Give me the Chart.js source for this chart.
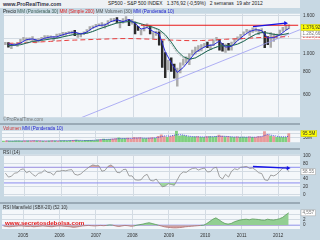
<!DOCTYPE html>
<html lang="es">
<head>
<meta charset="utf-8">
<title>SP500 - S&amp;P 500 INDEX</title>
<script src="https://cdn.jsdelivr.net/npm/chart.js@4.4.1/dist/chart.umd.min.js"></script>
<style>
  html, body { margin: 0; padding: 0; }
  body { width: 320px; height: 240px; position: relative; overflow: hidden; background: #c7d8e3; font-family: "Liberation Sans", Arial, sans-serif; }
  .caja { position: absolute; left: 0; width: 320px; }
  .sep { position: absolute; left: 0; width: 300px; background: #9aaab6; }
  .txt { position: absolute; font-size: 4.6px; white-space: nowrap; line-height: 1; }
  #cabecera { position: absolute; left: 0; top: 0; width: 300px; height: 8px; background: #eef1f4; }
</style>
</head>
<body>
<div id="cabecera"></div>
<div class="txt" style="left:3px;top:1.5px;font-size:5.3px;font-weight:bold;color:#334">www.ProRealTime.com</div>
<div class="txt" style="left:108px;top:1.6px;font-size:4.9px;color:#222">SP500 - S&amp;P 500 INDEX&nbsp;&nbsp;&nbsp;1.376,92 (-0,59%)&nbsp;&nbsp;&nbsp;2 semanas&nbsp;&nbsp;19 abr 2012</div>

<div class="caja" style="top:8px;height:115px"><canvas id="precio"></canvas></div>
<div class="sep" style="top:123px;height:2px"></div>
<div class="caja" style="top:125px;height:23px"><canvas id="volumen"></canvas></div>
<div class="sep" style="top:148px;height:1.5px"></div>
<div class="caja" style="top:149px;height:53px"><canvas id="rsi"></canvas></div>
<div class="sep" style="top:202px;height:2px"></div>
<div class="caja" style="top:204px;height:36px"><canvas id="mansfield"></canvas></div>

<div class="txt" style="left:3px;top:9.5px"><span style="color:#222">Precio</span> <span style="color:#3d5f55">MM (Ponderada 30)</span> <span style="color:#e02020">MM (Simple 200)</span> <span style="color:#555">MM Volumen (30)</span> <span style="color:#2020d0">MM (Ponderada 10)</span></div>
<div class="txt" style="left:3px;top:118px;color:#777">©ProRealTime.com</div>
<div class="txt" style="left:3px;top:126.5px"><span style="color:#d04040">Volumen</span> <span style="color:#2020d0">MM (Ponderada 10)</span></div>
<div class="txt" style="left:3px;top:150.5px;color:#333">RSI (14)</div>
<div class="txt" style="left:3px;top:205.5px;color:#333">RSI Mansfield (SBX-20) (52 10)</div>
<div class="txt" style="left:5px;top:219.5px;font-size:6.2px;font-weight:bold;color:#e01818;text-shadow:0 0 1px #fff">www.secretosdebolsa.com</div>

<script>
// periodo mostrado y marcas de año
const X_MIN = 2004.42;
const X_MAX = 2012.60;
const anios = [2005, 2006, 2007, 2008, 2009, 2010, 2011, 2012];

// precio mensual (jun 2004 - abr 2012)
const maximos = [
    1146, 1141, 1108, 1131, 1142, 1188, 1217,
    1212, 1212, 1229, 1192, 1199, 1219, 1245, 1246, 1243, 1233, 1270, 1275,
    1295, 1296, 1310, 1318, 1327, 1284, 1283, 1306, 1340, 1390, 1407, 1432,
    1441, 1461, 1439, 1498, 1535, 1540, 1556, 1503, 1539, 1576, 1524, 1523,
    1471, 1396, 1341, 1397, 1441, 1405, 1292, 1314, 1305, 1168, 1008, 919,
    946, 875, 833, 889, 931, 957, 996, 1040, 1081, 1102, 1114, 1130,
    1151, 1113, 1181, 1220, 1187, 1132, 1120, 1130, 1150, 1196, 1228, 1263,
    1303, 1345, 1333, 1370, 1371, 1345, 1357, 1308, 1230, 1293, 1278, 1270,
    1334, 1378, 1420, 1422
];
const minimos = [
    1113, 1078, 1060, 1099, 1090, 1127, 1173,
    1163, 1176, 1163, 1137, 1147, 1187, 1191, 1201, 1201, 1168, 1201, 1245,
    1245, 1253, 1277, 1280, 1245, 1219, 1225, 1261, 1290, 1331, 1360, 1385,
    1404, 1396, 1364, 1416, 1480, 1484, 1455, 1370, 1452, 1490, 1406, 1435,
    1270, 1326, 1257, 1320, 1373, 1272, 1200, 1249, 1106, 840, 741, 815,
    800, 735, 667, 784, 865, 888, 869, 978, 991, 1020, 1030, 1086,
    1071, 1045, 1101, 1165, 1040, 1028, 1011, 1040, 1039, 1131, 1173, 1189,
    1256, 1296, 1249, 1295, 1311, 1258, 1283, 1074, 1114, 1075, 1158, 1202,
    1259, 1312, 1340, 1357
];
const cierres = [
    1141, 1102, 1104, 1115, 1130, 1174, 1212,
    1181, 1204, 1181, 1157, 1192, 1191, 1234, 1220, 1229, 1207, 1249, 1248,
    1280, 1281, 1295, 1311, 1270, 1270, 1277, 1304, 1336, 1378, 1401, 1418,
    1438, 1407, 1421, 1482, 1531, 1503, 1455, 1474, 1527, 1549, 1481, 1468,
    1379, 1331, 1323, 1386, 1400, 1280, 1267, 1283, 1166, 969, 896, 903,
    826, 735, 798, 873, 919, 919, 987, 1021, 1057, 1036, 1096, 1115,
    1074, 1104, 1169, 1187, 1089, 1031, 1102, 1049, 1141, 1183, 1181, 1258,
    1286, 1327, 1326, 1364, 1345, 1321, 1292, 1219, 1131, 1253, 1247, 1258,
    1312, 1366, 1408, 1377
];
const volumenes = [
    14, 15, 12, 13, 16, 15, 14,
    16, 15, 17, 18, 16, 15, 14, 13, 15, 18, 16, 14,
    19, 18, 17, 18, 22, 24, 19, 17, 20, 21, 22, 18,
    26, 30, 34, 30, 32, 36, 40, 50, 38, 40, 46, 36,
    54, 48, 52, 42, 40, 46, 52, 44, 66, 84, 64, 54,
    64, 72, 128, 70, 74, 68, 60, 58, 60, 62, 56, 54,
    62, 64, 58, 64, 80, 68, 60, 62, 58, 56, 60, 54,
    58, 56, 60, 54, 56, 62, 60, 120, 82, 70, 62, 56,
    58, 56, 54, 95.5
];
const rsi14 = [
    55, 45, 47, 55, 56, 64, 66,
    56, 60, 52, 47, 55, 56, 63, 57, 56, 50, 60, 60,
    62, 61, 63, 64, 52, 50, 53, 60, 66, 72, 76, 74,
    74, 60, 62, 72, 76, 70, 57, 56, 64, 65, 48, 48,
    38, 37, 38, 48, 52, 37, 35, 40, 30, 20, 22, 28,
    26, 24, 38, 52, 58, 57, 63, 67, 68, 63, 66, 68,
    58, 59, 68, 70, 46, 40, 52, 45, 60, 66, 64, 70,
    71, 72, 67, 68, 63, 56, 54, 38, 36, 50, 48, 52,
    60, 68, 70, 58.55
];
const mansfield = [
    -0.3, -0.5, -0.6, -0.5, -0.4, -0.3, -0.3,
    -0.4, -0.5, -0.4, -0.6, -0.5, -0.4, -0.3, -0.4, -0.5, -0.6, -0.4, -0.3,
    -0.3, -0.4, -0.5, -0.6, -0.8, -0.7, -0.5, -0.3, -0.2, -0.1, -0.2, -0.3,
    -0.2, -0.1, -0.2, -0.1, 0.1, 0.0, -0.3, -0.5, -0.3, -0.1, -0.2, -0.4,
    -0.3, 0.0, 0.2, 0.4, 0.7, 0.9, 0.6, 0.3, 0.0, -0.3, -0.6, -0.8,
    -0.9, -1.0, -1.0, -0.9, -0.8, -0.6, -0.5, -0.4, -0.3, -0.2, -0.1, 0.0,
    0.6, 1.4, 2.2, 2.7, 2.0, 1.2, 0.6, 0.4, 0.6, 1.2, 1.6, 1.9,
    2.1, 2.2, 2.0, 2.3, 2.2, 2.1, 1.9, 1.8, 2.2, 2.0, 1.9, 2.1,
    2.4, 2.9, 3.8, 4.557
];

// medias moviles, cada dos meses (jul 2004 - abr 2012)
const mmPonderada10 = [
    1125, 1108, 1135,
    1185, 1195, 1170, 1205, 1225, 1225,
    1258, 1285, 1300, 1270, 1300, 1370,
    1412, 1420, 1480, 1515, 1480, 1520,
    1450, 1350, 1375, 1310, 1270, 1020,
    890, 790, 840, 920, 1010, 1060,
    1100, 1110, 1165, 1080, 1090, 1170,
    1245, 1310, 1340, 1325, 1210, 1215,
    1255, 1330, 1360
];
const mmPonderada30 = [
    1100, 1105, 1112,
    1135, 1158, 1170, 1180, 1195, 1205,
    1225, 1245, 1265, 1272, 1280, 1310,
    1350, 1385, 1420, 1455, 1470, 1480,
    1470, 1440, 1410, 1380, 1340, 1260,
    1150, 1030, 960, 930, 945, 985,
    1030, 1065, 1095, 1100, 1100, 1120,
    1160, 1215, 1265, 1295, 1285, 1265,
    1255, 1270, 1282
];
const mmVolumen30 = [
    1105, 1108, 1115,
    1140, 1160, 1172, 1183, 1198, 1208,
    1230, 1250, 1268, 1275, 1285, 1315,
    1355, 1390, 1425, 1460, 1475, 1485,
    1465, 1430, 1400, 1365, 1320, 1230,
    1120, 1000, 945, 925, 945, 990,
    1035, 1070, 1098, 1100, 1102, 1125,
    1165, 1220, 1270, 1298, 1280, 1260,
    1250, 1268, 1285
];
const mmSimple200 = [
    1132, 1134, 1136,
    1140, 1145, 1150, 1155, 1160, 1165,
    1170, 1175, 1178, 1181, 1184, 1187,
    1190, 1193, 1196, 1199, 1200, 1200,
    1199, 1196, 1193, 1190, 1186, 1182,
    1178, 1175, 1172, 1170, 1170, 1172,
    1175, 1180, 1185, 1190, 1194, 1198,
    1202, 1207, 1212, 1216, 1219, 1222,
    1225, 1228, 1229
];
const mmVolumen10 = [
    15, 14, 15,
    15, 16, 17, 15, 14, 16,
    17, 18, 20, 21, 19, 20,
    24, 30, 33, 37, 42, 40,
    45, 48, 44, 46, 54, 70,
    68, 84, 82, 68, 60, 60,
    58, 62, 66, 66, 60, 57,
    56, 57, 56, 62, 86, 74,
    60, 60, 66
];

// lineas dibujadas sobre el grafico (fecha, valor)
const resistencia = [[2008.2, 1415], [2012.55, 1415]];
const directriz = [[2006.56, 452], [2012.6, 1340]];
const flechaPrecio = [[2011.3, 1390], [2012.2, 1452]];
const flechaRsi = [[2011.3, 72], [2012.27, 68]];

function listaMeses(inicio, n, paso) {
    let [a, m] = inicio.split("-").map(Number);
    const r = [];
    for (let i = 0; i < n; i++) {
        r.push(a + m / 100);
        m += paso;
        while (m > 12) { m -= 12; a++; }
    }
    return r;
}
function aDecimal(f) {
    const a = Math.floor(f), m = Math.round((f - a) * 100);
    return a + (m - 1) / 12;
}
const meses = listaMeses("2004-06", 95, 1).map(f => aDecimal(f) + 1 / 24);
const mesesMM = listaMeses("2004-07", 47, 2).concat([2012.04]).map(f => aDecimal(f) + 1 / 24);

function puntos(fechas, valores) { return valores.map((v, i) => ({ x: fechas[i], y: v })); }
function tramo(p) { return p.map(q => ({ x: q[0], y: q[1] })); }

Chart.defaults.font.family = "'Liberation Sans', Arial, sans-serif";
Chart.defaults.animation = false;

const fondo = {
    id: "fondo",
    beforeDraw(chart) {
        const { ctx, chartArea: a } = chart;
        ctx.save();
        ctx.fillStyle = "#f4f7fa";
        ctx.fillRect(a.left, a.top, a.right - a.left, a.bottom - a.top);
        ctx.restore();
    }
};
const cajasValor = {
    id: "cajasValor",
    afterDraw(chart, args, opts) {
        const esc = chart.scales.y, ctx = chart.ctx, x0 = chart.chartArea.right + 1;
        (opts.items || []).forEach(it => {
            const y = esc.getPixelForValue(it.valor);
            ctx.save();
            ctx.font = "4.6px 'Liberation Sans'";
            const w = ctx.measureText(it.texto).width + 3;
            ctx.fillStyle = it.fondo;
            ctx.fillRect(x0, y - 3, w, 6);
            ctx.strokeStyle = it.borde;
            ctx.lineWidth = 0.5;
            ctx.strokeRect(x0, y - 3, w, 6);
            ctx.fillStyle = it.color;
            ctx.textBaseline = "middle";
            ctx.fillText(it.texto, x0 + 1.5, y + 0.3);
            ctx.restore();
        });
    }
};

function escalaX(etiquetas) {
    return {
        type: "linear", min: X_MIN, max: X_MAX, offset: false,
        afterBuildTicks: s => { s.ticks = anios.map(a => ({ value: a })); },
        afterFit: s => { s.height = etiquetas ? 11 : 0; },
        grid: { color: "#d3dbe3", lineWidth: 1, drawTicks: false, offset: false },
        border: { display: false },
        ticks: { display: etiquetas, autoSkip: false, maxRotation: 0, padding: 4, color: "#333", font: { size: 4.6 }, callback: v => String(v) }
    };
}
function escalaY(tipo, min, max, marcas, formato) {
    return {
        type: tipo, position: "right", min: min, max: max,
        afterBuildTicks: s => { s.ticks = marcas.map(v => ({ value: v })); },
        afterFit: s => { s.width = 20; },
        grid: { color: "#d3dbe3", lineWidth: 1, drawTicks: false },
        border: { display: false },
        ticks: { padding: 3, color: "#333", font: { size: 4.6 }, callback: formato }
    };
}
function opciones(escalas, cajas) {
    return {
        responsive: true, maintainAspectRatio: false, events: [],
        layout: { padding: { left: 2, right: 0, top: 0, bottom: 0 } },
        plugins: { legend: { display: false }, tooltip: { enabled: false }, cajasValor: { items: cajas } },
        scales: escalas
    };
}
function linea(datos, color, ancho, extra) {
    return Object.assign({ type: "line", data: datos, borderColor: color, borderWidth: ancho, pointRadius: 0, fill: false, tension: 0 }, extra || {});
}
const miles = v => v >= 1000 ? Math.floor(v / 1000) + "." + String(v % 1000).padStart(3, "0") : String(v);

// barras negras solo en las caidas fuertes
const caida = cierres.map((c, i) => i > 0 && c < cierres[i - 1] * 0.97);
const baja = cierres.map((c, i) => i > 0 && c < cierres[i - 1]);

// panel de precio
new Chart(document.getElementById("precio"), {
    type: "bar",
    data: {
        datasets: [
            linea(tramo(flechaPrecio), "#1414e6", 1.2, { order: 1, pointRadius: [0, 2.5], pointStyle: "triangle", rotation: 90, pointBackgroundColor: "#1414e6", pointBorderWidth: 0 }),
            linea(puntos(mesesMM, mmPonderada10), "#2a2ad8", 1, { order: 2 }),
            linea(tramo(resistencia), "#e81818", 1.2, { order: 3 }),
            linea(puntos(mesesMM, mmPonderada30), "#1f6a55", 1, { order: 4 }),
            linea(puntos(mesesMM, mmVolumen30), "#8a8a8a", 0.8, { order: 5, borderDash: [1, 1] }),
            linea(puntos(mesesMM, mmSimple200), "#e83a3a", 1, { order: 6, borderDash: [5, 3] }),
            linea(tramo(directriz), "#9c9cf2", 0.8, { order: 7 }),
            {
                type: "bar", order: 8,
                data: meses.map((x, i) => ({ x: x, y: [minimos[i], maximos[i]] })),
                backgroundColor: caida.map(b => b ? "#2a2a2a" : "#ababab"),
                barThickness: 1.8, borderWidth: 0
            }
        ]
    },
    options: opciones({
        x: escalaX(false),
        y: escalaY("logarithmic", 454, 1631, [600, 800, 1000, 1200, 1600], v => v === 1200 ? "" : miles(v))
    }, [
        { valor: 1229, texto: "1.229,21", fondo: "#ffffff", borde: "#e8a0a0", color: "#e03030" },
        { valor: 1282, texto: "1.282,66", fondo: "#ffffff", borde: "#b0b0b0", color: "#777" },
        { valor: 1376.92, texto: "1.376,92", fondo: "#ffff00", borde: "#c8c800", color: "#333" }
    ]),
    plugins: [fondo, cajasValor]
});

// panel de volumen
new Chart(document.getElementById("volumen"), {
    type: "bar",
    data: {
        datasets: [
            linea(puntos(mesesMM, mmVolumen10), "#3030e0", 0.8, { order: 1, borderDash: [1, 1] }),
            {
                type: "bar", order: 2,
                data: meses.map((x, i) => ({ x: x, y: volumenes[i] })),
                backgroundColor: baja.map(b => b ? "#e89a9a" : "#7fd07f"),
                barThickness: 2.2, borderWidth: 0
            }
        ]
    },
    options: opciones({
        x: escalaX(false),
        y: escalaY("linear", 0, 128, [50, 100], v => v === 100 ? "" : v + "M")
    }, [
        { valor: 95.5, texto: "95.5M", fondo: "#ffff00", borde: "#c8c800", color: "#333" }
    ]),
    plugins: [fondo, cajasValor]
});

// panel RSI
new Chart(document.getElementById("rsi"), {
    type: "line",
    data: {
        datasets: [
            linea(tramo(flechaRsi), "#1414e6", 1.3, { order: 1, pointRadius: [0, 2.5], pointStyle: "triangle", rotation: 90, pointBackgroundColor: "#1414e6", pointBorderWidth: 0 }),
            linea(puntos(meses, rsi14), "#8a8a8a", 0.8, { order: 2, fill: { target: { value: 70 }, above: "#d9a4a4", below: "rgba(0,0,0,0)" } }),
            linea(puntos(meses, rsi14), "rgba(0,0,0,0)", 0, { order: 3, fill: { target: { value: 30 }, above: "rgba(0,0,0,0)", below: "#9ed69e" } }),
            linea(tramo([[X_MIN, 70], [X_MAX, 70]]), "#8c8cf0", 1, { order: 4 }),
            linea(tramo([[X_MIN, 30], [X_MAX, 30]]), "#8c8cf0", 1, { order: 5 })
        ]
    },
    options: opciones({
        x: escalaX(false),
        y: escalaY("linear", -4, 102, [0, 20, 40, 60, 80, 100], v => v === 60 ? "" : String(v))
    }, [
        { valor: 58.55, texto: "58.55", fondo: "#ffffff", borde: "#a0a0a0", color: "#777" }
    ]),
    plugins: [fondo, cajasValor]
});

// panel RSI Mansfield
new Chart(document.getElementById("mansfield"), {
    type: "line",
    data: {
        datasets: [
            linea(puntos(meses, mansfield), "#5a9a5a", 0.8, {
                order: 1,
                fill: { target: "origin", above: "#92cf92", below: "#d3a0a0" },
                segment: { borderColor: c => c.p1.parsed.y < 0 ? "#b07070" : "#5a9a5a" }
            }),
            linea(tramo([[X_MIN, 0], [X_MAX, 0]]), "#9c9cf2", 1, { order: 2 })
        ]
    },
    options: opciones({
        x: escalaX(true),
        y: escalaY("linear", -1.43, 5.71, [0, 2, 4], v => v === 4 ? "" : String(v))
    }, [
        { valor: 4.557, texto: "4,557", fondo: "#ffffff", borde: "#a0a0a0", color: "#777" }
    ]),
    plugins: [fondo, cajasValor]
});
</script>
</body>
</html>
